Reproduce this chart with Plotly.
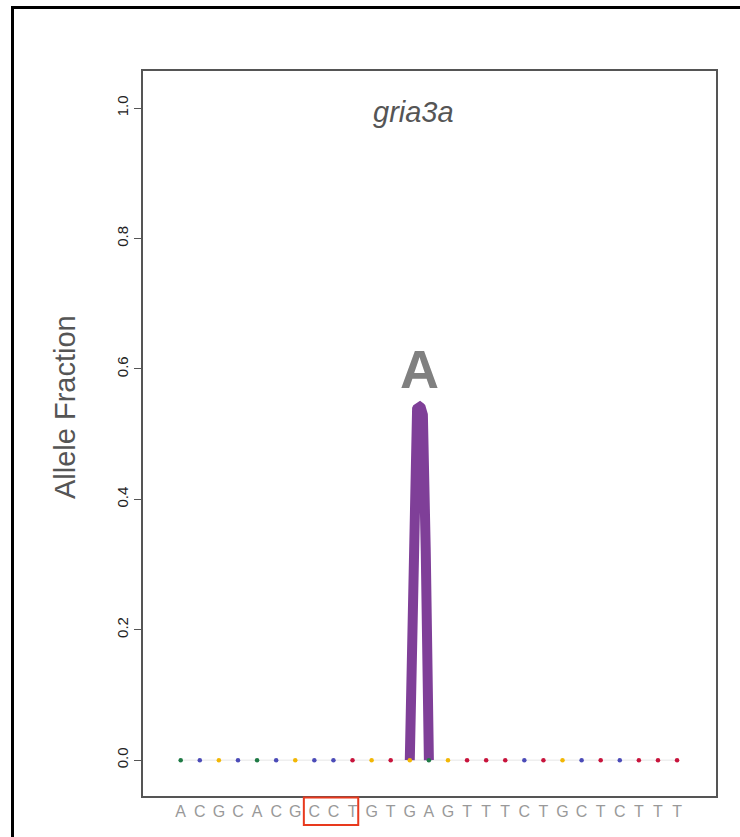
import math
import plotly.graph_objects as go

# ---- data ----
sequence = list("ACGCACGCCTGTGAGTTTCTGCTCTTT")
positions = list(range(1, len(sequence) + 1))
base_colors = {"A": "#1f7a45", "C": "#4b4bb8", "G": "#f2b705", "T": "#c8143c"}
gene_name = "gria3a"
# variant arc: spans between two positions, with allele fraction height
arc_start = 13
arc_end = 14
arc_fraction = 0.542
arc_label = "A"
guide_start = 8
guide_end = 10
y_ticks = [0.0, 0.2, 0.4, 0.6, 0.8, 1.0]

fig = go.Figure()

# faint baseline
fig.add_trace(go.Scatter(x=[positions[0], positions[-1]], y=[0, 0], mode="lines",
                         line=dict(color="#e6e6e6", width=1), hoverinfo="skip", showlegend=False))

# arc (shape of the mark derived from the single data value arc_fraction)
mid = (arc_start + arc_end) / 2
half = (arc_end - arc_start) / 2
h_c = 0.972


def leg_d(hn):
    return 0.33 + 0.67 * (1 - hn) ** 0.75


n = 120
arc_x, arc_y = [], []
for i in range(n + 1):
    hn = h_c * i / n
    arc_x.append(mid - leg_d(hn) * half)
    arc_y.append(arc_fraction * hn)
d_c = leg_d(h_c)
m = 60
for j in range(1, m):
    th = math.pi * j / m
    arc_x.append(mid - d_c * half * math.cos(th))
    arc_y.append(arc_fraction * (h_c + (1 - h_c) * math.sin(th)))
for i in range(n, -1, -1):
    hn = h_c * i / n
    arc_x.append(mid + leg_d(hn) * half)
    arc_y.append(arc_fraction * hn)
fig.add_trace(go.Scatter(x=arc_x, y=arc_y, mode="lines",
                         line=dict(color="#7f3f98", width=10), hoverinfo="skip", showlegend=False))

# base dots
fig.add_trace(go.Scatter(x=positions, y=[0] * len(positions), mode="markers",
                         marker=dict(size=4.5, color=[base_colors[b] for b in sequence]),
                         showlegend=False))

font_fam = "Liberation Sans, Arial, Helvetica, sans-serif"

L, R, T, B = 143, 716, 71, 796
W, H = R - L, B - T


def px(xp):
    return (xp - L) / W


def py(yp):
    return (B - yp) / H


fig.update_layout(
    width=740, height=837,
    margin=dict(l=L, r=740 - R, t=T, b=837 - B),
    paper_bgcolor="white", plot_bgcolor="white",
    showlegend=False,
    xaxis=dict(range=[-0.975, 29.04], showgrid=False, zeroline=False,
               showline=True, mirror=True, linecolor="#555555", linewidth=1.5,
               tickmode="array", tickvals=positions, ticktext=sequence, ticks="",
               tickfont=dict(family=font_fam, size=16, color="#999999")),
    yaxis=dict(range=[-0.055, 1.057], showgrid=False, zeroline=False,
               showline=True, mirror=True, linecolor="#555555", linewidth=1.5,
               tickmode="array", tickvals=y_ticks, ticktext=[f"{v:.1f}" for v in y_ticks],
               ticks="outside", ticklen=7, tickcolor="#555555", tickangle=-90,
               tickfont=dict(family=font_fam, size=15, color="#222222")),
)

# title
fig.add_annotation(text=f"<i>{gene_name}</i>", x=px(413), y=py(112), xref="paper", yref="paper",
                   xanchor="center", yanchor="middle", showarrow=False,
                   font=dict(family=font_fam, size=29, color="#555555"))

# y-axis title
fig.add_annotation(text="Allele Fraction", textangle=-90, x=px(65), y=py(407),
                   xref="paper", yref="paper", showarrow=False, xanchor="center", yanchor="middle",
                   font=dict(family=font_fam, size=29, color="#555555"))

# arc label
fig.add_annotation(text=f"<b>{arc_label}</b>", x=mid, y=arc_fraction, xref="x", yref="y",
                   yanchor="bottom", yshift=6, showarrow=False,
                   font=dict(family=font_fam, size=54, color="#808080"))

# guide box
fig.add_shape(type="rect", xref="x", yref="paper", x0=guide_start - 0.55, x1=guide_end + 0.3,
              y0=py(825), y1=py(797.5),
              line=dict(color="#e8391d", width=2), fillcolor="rgba(0,0,0,0)")

# outer black frame (cropped by the canvas)
fig.add_shape(type="rect", xref="paper", yref="paper",
              x0=px(12.5), x1=px(780), y0=py(880), y1=py(7.5),
              line=dict(color="black", width=3), fillcolor="rgba(0,0,0,0)")

fig.write_html("out.html", config={"displayModeBar": False},
               post_script="document.body.style.margin='0';document.body.style.padding='0';")
